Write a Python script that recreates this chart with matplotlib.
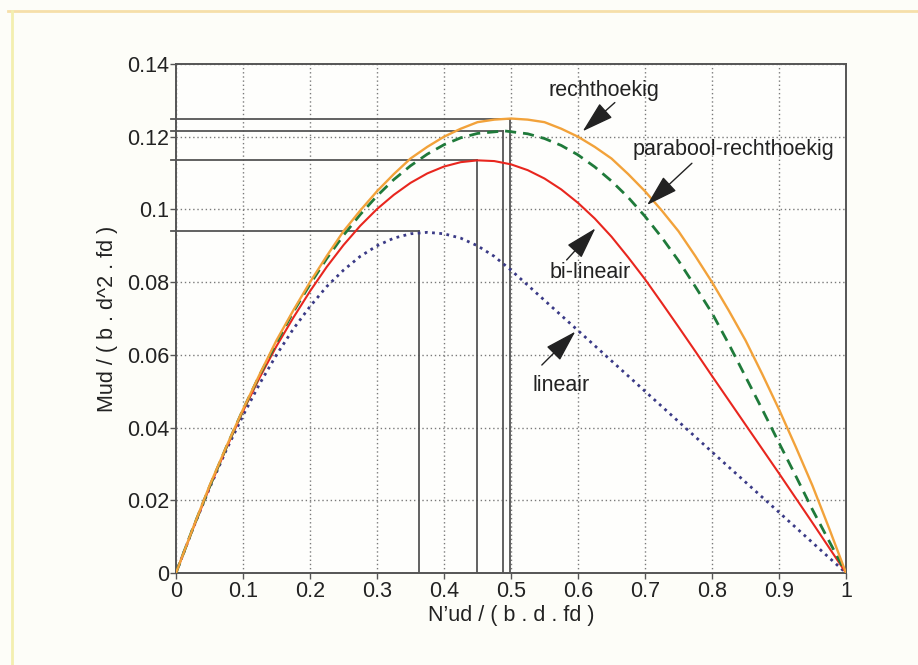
import matplotlib
matplotlib.use("Agg")
import matplotlib.pyplot as plt
from matplotlib.lines import Line2D

plt.rcParams['font.family'] = ['Liberation Sans', 'DejaVu Sans']

# ---- data ----
n_rect = [0, 0.025, 0.05, 0.075, 0.1, 0.125, 0.15, 0.175, 0.2, 0.225, 0.25, 0.275, 0.3, 0.325, 0.35, 0.375,
          0.4, 0.425, 0.45, 0.475, 0.5, 0.525, 0.55, 0.575, 0.6, 0.625, 0.65, 0.675, 0.7, 0.725, 0.75,
          0.775, 0.8, 0.825, 0.85, 0.875, 0.9, 0.925, 0.95, 0.975, 1.0]
m_rect = [0, 0.0122, 0.024, 0.0347, 0.045, 0.0547, 0.064, 0.0722, 0.080, 0.0872, 0.094, 0.0997, 0.105, 0.1097,
          0.114, 0.1172, 0.120, 0.1222, 0.124, 0.1247, 0.125, 0.1247, 0.124, 0.1222, 0.120, 0.1172, 0.114,
          0.1097, 0.105, 0.0997, 0.094, 0.0872, 0.080, 0.0722, 0.064, 0.0547, 0.045, 0.0347, 0.024, 0.0122, 0]

n_par = [0, 0.025, 0.05, 0.075, 0.1, 0.125, 0.15, 0.175, 0.2, 0.225, 0.25, 0.275, 0.3, 0.325, 0.35, 0.375,
         0.4, 0.425, 0.45, 0.49, 0.525, 0.55, 0.575, 0.6, 0.625, 0.65, 0.675, 0.7, 0.725, 0.75,
         0.775, 0.8, 0.825, 0.85, 0.875, 0.9, 0.925, 0.95, 0.975, 1.0]
m_par = [0, 0.0122, 0.0237, 0.0346, 0.0449, 0.0545, 0.0634, 0.0718, 0.0794, 0.0865, 0.0929, 0.0986, 0.1037,
         0.1082, 0.1120, 0.1152, 0.1178, 0.1197, 0.1209, 0.1216, 0.1208, 0.1195, 0.1176, 0.1150, 0.1117,
         0.1078, 0.1033, 0.0981, 0.0923, 0.0859, 0.0788, 0.0715, 0.0630, 0.0540, 0.0450, 0.0358, 0.0267,
         0.0174, 0.0087, 0]

n_bil = [0, 0.025, 0.05, 0.075, 0.1, 0.125, 0.15, 0.175, 0.2, 0.225, 0.25, 0.275, 0.3, 0.325, 0.35, 0.375,
         0.4, 0.425, 0.45, 0.475, 0.5, 0.525, 0.55, 0.575, 0.6, 0.625, 0.65, 0.675, 0.7, 0.725, 0.75,
         0.775, 0.8, 0.85, 0.9, 0.95, 1.0]
m_bil = [0, 0.0120, 0.0235, 0.0343, 0.0445, 0.0538, 0.0624, 0.0702, 0.0775, 0.0842, 0.0902, 0.0955, 0.1001,
         0.1040, 0.1073, 0.1099, 0.1118, 0.1130, 0.1135, 0.1133, 0.1124, 0.1108, 0.1085, 0.1055, 0.1018,
         0.0975, 0.0925, 0.0868, 0.0808, 0.0743, 0.0677, 0.0610, 0.0542, 0.0408, 0.0274, 0.0138, 0]

n_lin = [0, 0.025, 0.05, 0.075, 0.1, 0.125, 0.15, 0.175, 0.2, 0.225, 0.25, 0.275, 0.3, 0.325, 0.35, 0.375,
         0.4, 0.425, 0.45, 0.475, 0.5, 0.6, 0.7, 0.8, 0.9, 1.0]
m_lin = [0, 0.0121, 0.0233, 0.0338, 0.0433, 0.0521, 0.0600, 0.0671, 0.0733, 0.0788, 0.0833, 0.0871, 0.0900,
         0.0921, 0.0933, 0.0937, 0.0933, 0.0921, 0.0900, 0.0871, 0.0833, 0.0667, 0.0500, 0.0333, 0.0167, 0]

peak_n = [0.498, 0.488, 0.449, 0.363]
peak_m = [0.125, 0.1215, 0.1135, 0.094]

x_ticks = [0, 0.1, 0.2, 0.3, 0.4, 0.5, 0.6, 0.7, 0.8, 0.9, 1]
x_ticklabels = ['0', '0.1', '0.2', '0.3', '0.4', '0.5', '0.6', '0.7', '0.8', '0.9', '1']
y_ticks = [0, 0.02, 0.04, 0.06, 0.08, 0.1, 0.12, 0.14]
y_ticklabels = ['0', '0.02', '0.04', '0.06', '0.08', '0.1', '0.12', '0.14']

labels = ['rechthoekig', 'parabool-rechthoekig', 'bi-lineair', 'lineair']
label_xy = [(0.639, 0.1328), (0.832, 0.1166), (0.618, 0.0826), (0.575, 0.0517)]
arrow_tail = [(0.655, 0.1294), (0.770, 0.1127), (0.583, 0.0861), (0.546, 0.0572)]
arrow_tip = [(0.607, 0.1215), (0.703, 0.1012), (0.626, 0.0948), (0.596, 0.0664)]

# ---- figure ----
bg = '#fdfdf8'
fig = plt.figure(figsize=(9.18, 6.65), dpi=100, facecolor=bg)
ax = fig.add_axes([176/918, 1-573/665, (846-176)/918, (573-64)/665])
ax.set_facecolor('#fefefc')

ax.set_xlim(0, 1)
ax.set_ylim(0, 0.14)
ax.set_xticks(x_ticks)
ax.set_xticklabels(x_ticklabels)
ax.set_yticks(y_ticks)
ax.set_yticklabels(y_ticklabels)
ax.tick_params(direction='out', length=4, width=1, color='#555555',
               labelsize=15.5, labelcolor='#222222')
ax.tick_params(axis='y', pad=1)
ax.tick_params(axis='x', pad=2)
ax.grid(True, color='#7a7a7a', linestyle=(0, (1, 2.0)), linewidth=1.0)
ax.set_axisbelow(True)
for s in ax.spines.values():
    s.set_color('#555555')
    s.set_linewidth(1.4)

# reference lines at the maxima
for px, py in zip(peak_n, peak_m):
    ax.plot([-0.008, px], [py, py], color='#555555', lw=1.3, clip_on=False, zorder=2)
    ax.plot([px, px], [0, py], color='#555555', lw=1.3, zorder=2)

# curves
ax.plot(n_lin, m_lin, color='#3a3a86', lw=2.0, linestyle=(0, (1, 1.6)), zorder=3)
ax.plot(n_bil, m_bil, color='#e8261e', lw=1.5, zorder=3)
ax.plot(n_par, m_par, color='#1f7a3a', lw=2.0, linestyle=(0, (4, 2.5)), zorder=4)
ax.plot(n_rect, m_rect, color='#f2a23a', lw=1.7, zorder=5)

# annotations
for lab, (tx, ty), tail, tip in zip(labels, label_xy, arrow_tail, arrow_tip):
    ax.text(tx, ty, lab, fontsize=15.5, color='#222222', ha='center', va='center', zorder=6)
    ax.annotate('', xy=tip, xytext=tail,
                arrowprops=dict(arrowstyle='-|>,head_length=1.0,head_width=0.3',
                                mutation_scale=20, color='#222222', lw=1.0,
                                shrinkA=0, shrinkB=0), zorder=6)

ax.set_xlabel("N\u2019ud / ( b . d . fd )", fontsize=15.5, color='#222222', labelpad=2)
ax.set_ylabel("Mud / ( b . d^2 . fd )", fontsize=15.5, color='#222222', labelpad=6)

# faint scan border
fig.add_artist(Line2D([8/918, 1], [1-11/665, 1-11/665], color='#f6dfaa', lw=2.0))
fig.add_artist(Line2D([12/918, 12/918], [0, 1-11/665], color='#f3efb0', lw=2.0))

fig.savefig('out.png', dpi=100, facecolor=bg)
